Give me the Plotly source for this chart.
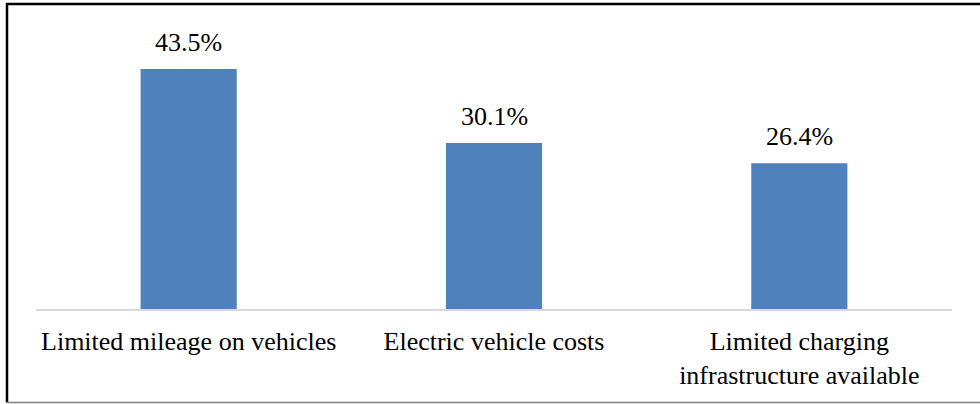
import plotly.graph_objects as go

categories = ["Limited mileage on vehicles", "Electric vehicle costs",
              "Limited charging<br>infrastructure available"]
values = [43.5, 30.1, 26.4]
labels = ["43.5%", "30.1%", "26.4%"]

FONT = "Times New Roman"

fig = go.Figure()
fig.add_trace(go.Bar(
    x=categories, y=values, width=0.315,
    marker=dict(color="#4F81BD", line=dict(width=0)),
    hoverinfo="skip",
))

for c, v, t in zip(categories, values, labels):
    fig.add_annotation(x=c, y=v, text=t, showarrow=False, yanchor="bottom",
                       yshift=10, font=dict(family=FONT, size=26, color="#000000"))

W, H = 980, 404
L, R, T, B = 36, 28, 20, 95
pw, ph = W - L - R, H - T - B

def px(x):
    return (x - L) / pw

def py(y):
    return (H - B - y) / ph

shapes = [
    dict(type="line", xref="paper", yref="paper", x0=px(7), x1=px(7), y0=py(3), y1=py(403),
         line=dict(color="#000000", width=2.5)),
    dict(type="line", xref="paper", yref="paper", x0=px(6), x1=px(980), y0=py(4), y1=py(4),
         line=dict(color="#000000", width=2.5)),
    dict(type="line", xref="paper", yref="paper", x0=px(6), x1=px(980), y0=py(402.5), y1=py(402.5),
         line=dict(color="#7f7f7f", width=1.5)),
]

fig.update_layout(
    width=W, height=H,
    margin=dict(l=L, r=R, t=T, b=B, pad=0),
    paper_bgcolor="white", plot_bgcolor="white",
    showlegend=False,
    bargap=0.685,
    shapes=shapes,
    font=dict(family=FONT, size=26, color="#000000"),
    xaxis=dict(showline=True, linecolor="#d9d9d9", linewidth=1.5, ticks="",
               tickfont=dict(family=FONT, size=26, color="#000000"),
               ticklabelstandoff=8, showgrid=False, fixedrange=True),
    yaxis=dict(range=[0, 289 / (240 / 43.5)], visible=False, showgrid=False,
               zeroline=False, fixedrange=True),
)

fig.write_html("out.html")
